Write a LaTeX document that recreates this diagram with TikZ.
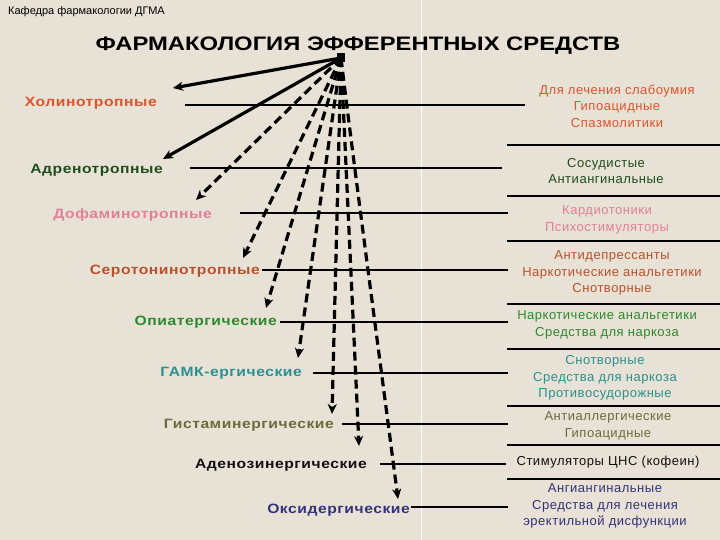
\documentclass[tikz,border=0pt]{standalone}
\usepackage{fontspec}
\setmainfont{Liberation Sans}
\usetikzlibrary{arrows.meta}
\definecolor{bg}{HTML}{E8E1D6}
\definecolor{cHol}{HTML}{D9562C}
\definecolor{cAdr}{HTML}{1E4D1E}
\definecolor{cDof}{HTML}{E0809A}
\definecolor{cSer}{HTML}{B8522A}
\definecolor{cOpi}{HTML}{2C8A2C}
\definecolor{cGam}{HTML}{2A9090}
\definecolor{cGis}{HTML}{6E6A3C}
\definecolor{cAde}{HTML}{111111}
\definecolor{cOks}{HTML}{33337A}
\begin{document}
\begin{tikzpicture}[x=1pt,y=-1pt,
  lbl/.style={font=\bfseries\fontsize{13.5}{15}\selectfont\addfontfeatures{FakeStretch=1.16,LetterSpace=4}, inner sep=0pt, anchor=east},
  rtxt/.style={font=\fontsize{13}{16.5}\selectfont\addfontfeatures{LetterSpace=4}, align=center, inner sep=0pt},
  hl/.style={line width=1.1pt, black},
  arr/.style={line width=3.2pt, black, -{Stealth[length=10pt,width=9pt,inset=3pt]}},
  darr/.style={arr, dash pattern=on 9pt off 5pt}]
\fill[bg] (0,0) rectangle (720,540);
\useasboundingbox (0,0) rectangle (720,540);
\draw[white, line width=0.8pt] (421,0) -- (421,540);

\node[anchor=west, inner sep=0pt, font=\fontsize{11}{13}\selectfont] (hdr) at (8,12) {Кафедра фармакологии ДГМА};
\node[inner sep=0pt, font=\bfseries\fontsize{19.5}{24}\selectfont\addfontfeatures{FakeStretch=1.22}] (title) at (358,46) {ФАРМАКОЛОГИЯ ЭФФЕРЕНТНЫХ СРЕДСТВ};
\node[fill=black, minimum width=8pt, minimum height=9pt, inner sep=0pt] (hub) at (341,58) {};

% left labels
\node[lbl, text=cHol] (hol) at (157,103) {Холинотропные};
\node[lbl, text=cAdr] (adr) at (163,170) {Адренотропные};
\node[lbl, text=cDof] (dof) at (212,215) {Дофаминотропные};
\node[lbl, text=cSer] (ser) at (260,271) {Серотонинотропные};
\node[lbl, text=cOpi] (opi) at (277,322) {Опиатергические};
\node[lbl, text=cGam] (gam) at (302,373) {ГАМК-ергические};
\node[lbl, text=cGis] (gis) at (334,425) {Гистаминергические};
\node[lbl, text=cAde] (ade) at (367,465) {Аденозинергические};
\node[lbl, text=cOks] (oks) at (410,510) {Оксидергические};

% right texts
\node[rtxt, text=cHol] (r1) at (617,106) {Для лечения слабоумия\\Гипоацидные\\Спазмолитики};
\node[rtxt, text=cAdr] (r2) at (606,171) {Сосудистые\\Антиангинальные};
\node[rtxt, text=cDof] (r3) at (607,220) {Кардиотоники\\Психостимуляторы};
\node[rtxt, text=cSer] (r4) at (612,273) {Антидепрессанты\\Наркотические анальгетики\\Снотворные};
\node[rtxt, text=cOpi] (r5) at (607,325) {Наркотические анальгетики\\Средства для наркоза};
\node[rtxt, text=cGam] (r6) at (605,378) {Снотворные\\Средства для наркоза\\Противосудорожные};
\node[rtxt, text=cGis] (r7) at (608,426) {Антиаллергические\\Гипоацидные};
\node[rtxt, text=cAde] (r8) at (608,462) {Стимуляторы ЦНС (кофеин)};
\node[rtxt, text=cOks] (r9) at (605,506) {Ангиангинальные\\Средства для лечения\\эректильной дисфункции};

% right separators
\foreach \yy in {145,196,241,304,349,406,445,479}
  \draw[hl] (507,\yy) -- (720,\yy);

% horizontal connectors label -> right block
\coordinate (h1) at (185,105); \coordinate (e1) at (525,105);
\coordinate (h2) at (190,168); \coordinate (e2) at (502,168);
\coordinate (h3) at (240,213); \coordinate (e3) at (508,213);
\coordinate (h4) at (262,270); \coordinate (e4) at (508,270);
\coordinate (h5) at (280,322); \coordinate (e5) at (508,322);
\coordinate (h6) at (313,373); \coordinate (e6) at (508,373);
\coordinate (h7) at (342,424); \coordinate (e7) at (508,424);
\coordinate (h8) at (380,464); \coordinate (e8) at (506,464);
\coordinate (h9) at (411,507); \coordinate (e9) at (508,507);
\foreach \i in {1,...,9} \draw[hl] (h\i) -- (e\i);

% arrows from hub
\coordinate (a1) at (173,88);
\coordinate (a2) at (163,159);
\coordinate (a3) at (196,200);
\coordinate (a4) at (243,258);
\coordinate (a5) at (266,308);
\coordinate (a6) at (298,358);
\coordinate (a7) at (332,414);
\coordinate (a8) at (359,446);
\coordinate (a9) at (398,499);
\draw[arr] (hub.center) -- (a1);
\draw[arr] (hub.center) -- (a2);
\draw[darr] (hub.center) -- (a3);
\draw[darr] (hub.center) -- (a4);
\draw[darr] (hub.center) -- (a5);
\draw[darr] (hub.center) -- (a6);
\draw[darr] (hub.center) -- (a7);
\draw[darr] (hub.center) -- (a8);
\draw[darr] (hub.center) .. controls (352,150) and (372,300) .. (a9);
\end{tikzpicture}
\end{document}
